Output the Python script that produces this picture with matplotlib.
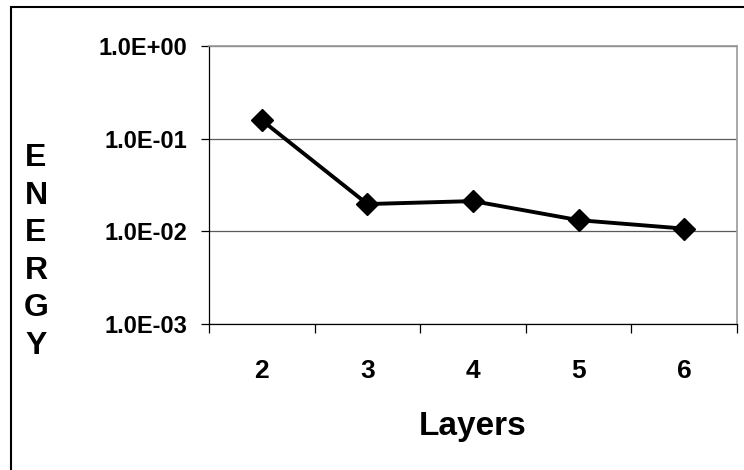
import numpy as np
import matplotlib.pyplot as plt
from matplotlib.patches import Rectangle
from matplotlib.ticker import FixedLocator, NullFormatter

plt.rcParams['font.family'] = ['Liberation Sans', 'DejaVu Sans']
plt.rcParams['font.weight'] = 'bold'

# data
layers = [2, 3, 4, 5, 6]
energy = [0.158, 0.0197, 0.0212, 0.0132, 0.0107]
ytick_vals = [1e-3, 1e-2, 1e-1, 1e0]
ytick_labels = ['1.0E-03', '1.0E-02', '1.0E-01', '1.0E+00']

W, H = 744, 470
fig = plt.figure(figsize=(W / 100, H / 100), dpi=100)

# outer chart border (runs off the right/bottom of the picture)
fig.patches.append(Rectangle((11 / W, -0.1), 1.2, 1.1 - 7 / H,
                             transform=fig.transFigure, fill=False,
                             edgecolor='black', linewidth=1.5))

ax = fig.add_axes([209 / W, 1 - 324 / H, (737 - 209) / W, (324 - 46) / H])
ax.set_yscale('log')
ax.set_ylim(1e-3, 1)
ax.set_xlim(1.5, 6.5)

ax.plot(layers, energy, color='black', linewidth=2.8, marker='D',
        markersize=11, zorder=3)

# gridlines at each decade
for v in ytick_vals:
    ax.axhline(v, color='#5a5a5a', linewidth=0.9, zorder=1)

ax.set_yticks(ytick_vals)
ax.set_yticklabels(ytick_labels, fontsize=17, fontweight='bold')
ax.yaxis.set_minor_locator(FixedLocator([]))
ax.tick_params(axis='y', which='major', direction='out', length=5.5, width=0.9,
               pad=10)

# category axis: labels at the centers, ticks on the boundaries
ax.set_xticks(layers)
ax.set_xticklabels([str(v) for v in layers], fontsize=19, fontweight='bold')
ax.tick_params(axis='x', which='major', length=0, pad=25)
ax.xaxis.set_minor_locator(FixedLocator(np.arange(1.5, 7.0, 1.0)))
ax.xaxis.set_minor_formatter(NullFormatter())
ax.tick_params(axis='x', which='minor', direction='out', length=6.5, width=0.9)

for side in ['left', 'bottom']:
    ax.spines[side].set_color('black')
    ax.spines[side].set_linewidth(0.9)
for side in ['top', 'right']:
    ax.spines[side].set_color('#9a9a9a')
    ax.spines[side].set_linewidth(1.2)

fig.text(473 / W, 1 - 427 / H, 'Layers', fontsize=24, fontweight='bold',
         ha='center', va='center')
fig.text(36 / W, 1 - 252 / H, '\n'.join('ENERGY'), fontsize=23,
         fontweight='bold', ha='center', va='center', linespacing=1.33)

fig.savefig('out.png', dpi=100)
